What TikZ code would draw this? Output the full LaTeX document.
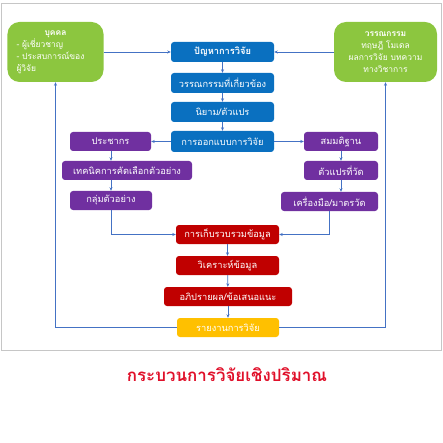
\documentclass[tikz,border=0pt]{standalone}
\usepackage{fontspec}
\newfontfamily\thai[Script=Thai]{Loma}
\usetikzlibrary{arrows.meta}
\definecolor{gbox}{HTML}{8CC63F}
\definecolor{bbox}{HTML}{0A70C0}
\definecolor{pbox}{HTML}{7030A0}
\definecolor{rbox}{HTML}{C00000}
\definecolor{ybox}{HTML}{FFC000}
\definecolor{lin}{HTML}{4472C4}
\definecolor{ttl}{HTML}{E0102A}
\tikzset{
  bx/.style={rounded corners=3bp, fill=#1, text=white, inner sep=0.5bp,
    minimum height=20bp, font=\thai\fontsize{9.3}{10}\selectfont},
  gbx/.style={rounded corners=12bp, fill=gbox, text=white, inner sep=2bp,
    minimum height=60bp, minimum width=96bp, font=\thai\fontsize{8.5}{12}\selectfont},
  arr/.style={draw=lin, line width=0.8bp, -{Stealth[length=3.5bp,width=3bp]}}
}
\begin{document}
\begin{tikzpicture}[x=1bp,y=-1bp]
\useasboundingbox (0,0) rectangle (443,443);
\draw[gray!45, line width=0.7bp] (1,3) rectangle (441,350);
% green boxes
\node[gbx, text width=78bp, align=left] (g1) at (55.5,52)
  {\makebox[\linewidth]{\bfseries บุคคล}\\- ผู้เชี่ยวชาญ\\- ประสบการณ์ของ\\ผู้วิจัย};
\node[gbx, minimum width=103bp, text width=99bp, align=center] (g2) at (385.5,52)
  {{\bfseries วรรณกรรม}\\ทฤษฎี โมเดล\\ผลการวิจัย บทความ\\ทางวิชาการ};
% blue column
\node[bx=bbox, minimum width=103bp, font=\thai\bfseries\fontsize{9.3}{10}\selectfont] (b1) at (222.5,52) {ปัญหาการวิจัย};
\node[bx=bbox, minimum width=103bp] (b2) at (222.5,83) {วรรณกรรมที่เกี่ยวข้อง};
\node[bx=bbox, minimum width=103bp] (b3) at (222.5,112) {นิยาม/ตัวแปร};
\node[bx=bbox, minimum width=103bp, minimum height=21bp] (b4) at (222.5,141.5) {การออกแบบการวิจัย};
% purple left
\node[bx=pbox, minimum width=81bp, minimum height=19bp] (s1) at (110.5,141.5) {ประชากร};
\node[bx=pbox, minimum width=130bp, minimum height=19bp] (s2) at (127,170.5) {เทคนิคการคัดเลือกตัวอย่าง};
\node[bx=pbox, minimum width=82bp, minimum height=19bp] (s3) at (111,200.5) {กลุ่มตัวอย่าง};
% purple right
\node[bx=pbox, minimum width=74bp, minimum height=19bp] (h1) at (341,141.5) {สมมติฐาน};
\node[bx=pbox, minimum width=74bp, minimum height=19bp] (h2) at (341,170.5) {ตัวแปรที่วัด};
\node[bx=pbox, minimum width=97bp, minimum height=19bp] (h3) at (329.5,201.5) {เครื่องมือ/มาตรวัด};
% red column
\node[bx=rbox, minimum width=103bp, minimum height=19bp] (r1) at (227.5,234.5) {การเก็บรวบรวมข้อมูล};
\node[bx=rbox, minimum width=103bp, minimum height=19bp] (r2) at (227.5,265.5) {วิเคราะห์ข้อมูล};
\node[bx=rbox, minimum width=128bp, minimum height=19bp] (r3) at (228,296.5) {อภิปรายผล/ข้อเสนอแนะ};
\node[bx=ybox, minimum width=102bp, minimum height=19bp] (y1) at (228,327.5) {รายงานการวิจัย};
% title
\node[text=ttl, font=\thai\bfseries\fontsize{17}{19}\selectfont] (t) at (227,375) {กระบวนการวิจัยเชิงปริมาณ};
% connectors
\draw[arr] (g1.east |- b1.west) -- (b1.west);
\draw[arr] (g2.west |- b1.east) -- (b1.east);
\draw[arr] (b1) -- (b2);
\draw[arr] (b2) -- (b3);
\draw[arr] (b3) -- (b4);
\draw[arr] (b4.west) -- (s1.east);
\draw[arr] (b4.east) -- (h1.west);
\draw[arr] (s1.south -| s3.north) -- (s2.north -| s3.north);
\draw[arr] (s2.south -| s3.north) -- (s3.north);
\draw[arr] (h1) -- (h2);
\draw[arr] (h2.south) -- (h3.north -| h2.south);
\draw[arr] (s3.south) |- (r1.west);
\draw[arr] (h3.south) |- (r1.east);
\draw[arr] (r1) -- (r2);
\draw[arr] (r2) -- (r3);
\draw[arr] (r3) -- (y1);
\draw[arr] (y1.west) -| (g1.south);
\draw[arr] (y1.east) -| (g2.south);
\end{tikzpicture}
\end{document}
